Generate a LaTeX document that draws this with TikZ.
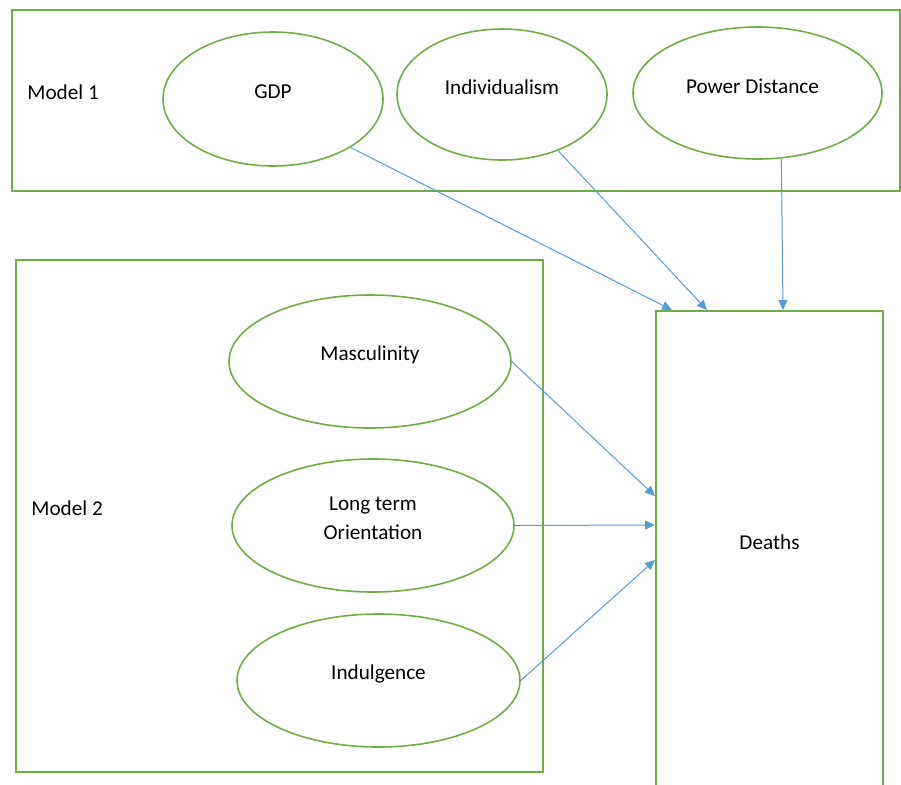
\documentclass[tikz,border=0pt]{standalone}
\usepackage{fontspec}
\setmainfont{Carlito}
\usetikzlibrary{shapes.geometric,arrows.meta}
\definecolor{officegreen}{RGB}{112,173,71}
\definecolor{officeblue}{RGB}{91,155,213}
\tikzset{
  modelbox/.style={draw=officegreen, line width=1pt},
  oval/.style={ellipse, draw=officegreen, line width=0.8pt, inner sep=0pt},
  link/.style={draw=officeblue, line width=0.5pt, -{Triangle[length=5pt,width=4.5pt]}}
}

\begin{document}
\begin{tikzpicture}[x=0.5pt, y=-0.5pt, font=\fontsize{10.6}{14.5}\selectfont]

  \begin{scope}
\useasboundingbox (0,0) rectangle (901,784);
\draw[modelbox] (12,10) rectangle (900,191);
\draw[modelbox] (16,260) rectangle (543,772);

\node[anchor=west, inner sep=0pt] (model1) at (27,92) {Model 1};
\node[anchor=west, inner sep=0pt] (model2) at (31,508) {Model 2};

\node[oval, minimum width=110pt, minimum height=67pt, label={[yshift=3.5pt]center:GDP}] (gdp) at (273,99) {};
\node[oval, minimum width=105pt, minimum height=65.5pt, label={[yshift=3.5pt]center:Individualism}] (indiv) at (502,94.5) {};
\node[oval, minimum width=124.5pt, minimum height=66pt, label={[yshift=3.5pt, xshift=-2.5pt]center:Power Distance}] (power) at (757.5,93) {};

\node[oval, minimum width=141pt, minimum height=66.5pt, label={[yshift=3.5pt]center:Masculinity}] (masc) at (370,361.5) {};
\node[oval, minimum width=141pt, minimum height=66.5pt, label={[yshift=3.5pt, align=center]center:Long term\\Orientation}] (lto) at (373,525.5) {};
\node[oval, minimum width=141.5pt, minimum height=66.5pt, label={[yshift=3.5pt]center:Indulgence}] (indulg) at (378.5,680.5) {};

\node[modelbox, anchor=north west, minimum width=113.5pt, minimum height=245pt, inner sep=0pt, label={[yshift=7pt]center:Deaths}] (deaths) at (655,310) {};

\draw[link] (gdp.-32) -- ([xshift=8.5pt]deaths.north west);
\draw[link] (indiv.-45) -- ([xshift=26pt]deaths.north west);
\draw[link] (power.-70) -- ([xshift=64pt]deaths.north west);
\draw[link] (masc.east) -- ([yshift=-93pt]deaths.north west);
\draw[link] (lto.east) -- ([yshift=-107.5pt]deaths.north west);
\draw[link] (indulg.east) -- ([yshift=-125pt]deaths.north west);
\end{scope}

\end{tikzpicture}
\end{document}
